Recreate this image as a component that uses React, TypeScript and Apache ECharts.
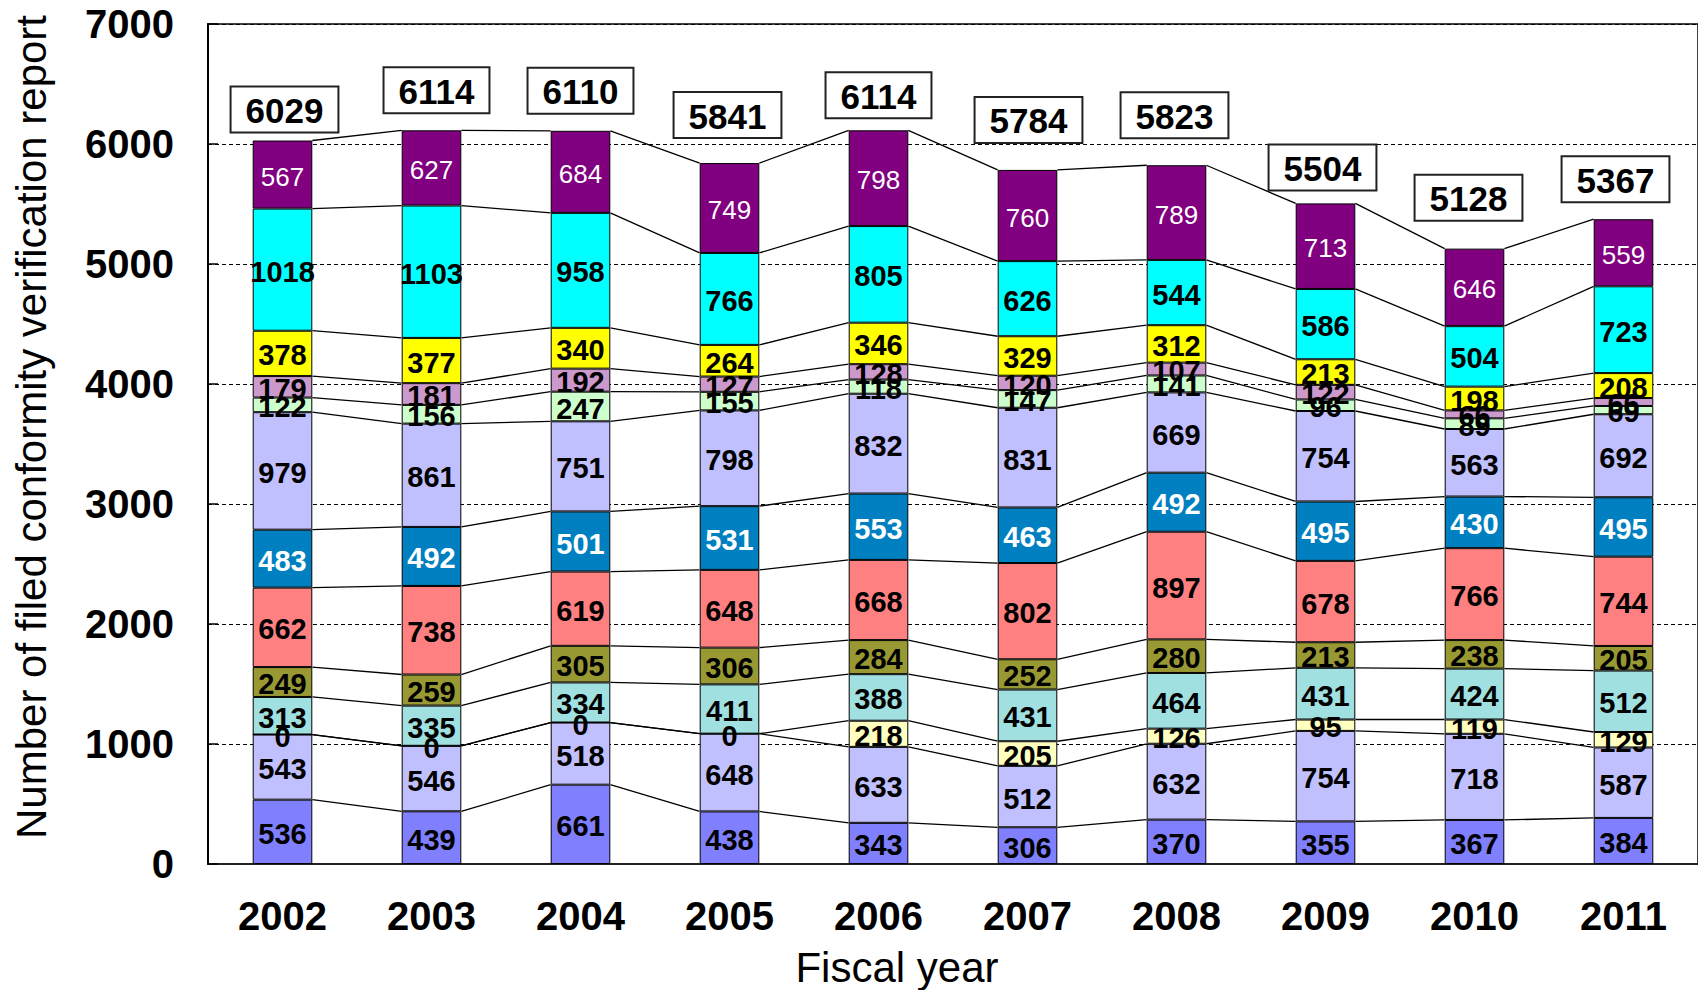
import React, { useEffect, useRef } from "react";
import * as echarts from "echarts";

const years = ["2002", "2003", "2004", "2005", "2006", "2007", "2008", "2009", "2010", "2011"];

const band1 = [536, 439, 661, 438, 343, 306, 370, 355, 367, 384];
const band2 = [543, 546, 518, 648, 633, 512, 632, 754, 718, 587];
const band3 = [0, 0, 0, 0, 218, 205, 126, 95, 119, 129];
const band4 = [313, 335, 334, 411, 388, 431, 464, 431, 424, 512];
const band5 = [249, 259, 305, 306, 284, 252, 280, 213, 238, 205];
const band6 = [662, 738, 619, 648, 668, 802, 897, 678, 766, 744];
const band7 = [483, 492, 501, 531, 553, 463, 492, 495, 430, 495];
const band8 = [979, 861, 751, 798, 832, 831, 669, 754, 563, 692];
const band9 = [122, 156, 247, 155, 118, 147, 141, 96, 89, 69];
const band10 = [179, 181, 192, 127, 128, 120, 107, 122, 66, 66];
const band11 = [378, 377, 340, 264, 346, 329, 312, 213, 198, 208];
const band12 = [1018, 1103, 958, 766, 805, 626, 544, 586, 504, 723];
const band13 = [567, 627, 684, 749, 798, 760, 789, 713, 646, 559];

const totals = [6029, 6114, 6110, 5841, 6114, 5784, 5823, 5504, 5128, 5367];

const yTicks = [0, 1000, 2000, 3000, 4000, 5000, 6000, 7000];

// styles (kept apart from data)
const bandColors = [
  "#8080FF", "#C0C0FF", "#FFFFC0", "#A0E0E0", "#999933", "#FF8080",
  "#0080C0", "#C0C0FF", "#CCFFCC", "#CC99CC", "#FFFF00", "#00FFFF", "#800080",
];
const totalBoxGap = [9, 18, 18, 26, 13, 28, 28, 14, 29, 18];
const totalBoxShift = [2, 5, 0, -2, 0, 1, -2, -3, -6, -8];

const FONT = "'Liberation Sans', Arial, sans-serif";

export default function App() {
  const ref = useRef<HTMLDivElement>(null);

  useEffect(() => {
    if (!ref.current) return;
    const chart = echarts.init(ref.current, null, { renderer: "svg" });
    const bands = [band1, band2, band3, band4, band5, band6, band7, band8, band9, band10, band11, band12, band13];

    // cumulative stack tops for series lines
    const cum: number[][] = [];
    bands.forEach((b, k) => {
      cum.push(b.map((v, i) => v + (k > 0 ? cum[k - 1][i] : 0)));
    });
    const lineData: number[][] = [];
    cum.forEach((c) => {
      for (let i = 0; i < c.length - 1; i++) lineData.push([i, c[i], c[i + 1]]);
    });

    const barSeries: any[] = bands.map((b, k) => {
      let labelColor = "#000";
      let fontWeight: any = "bold";
      let fontSize = 29;
      if (k === 6) labelColor = "#fff";
      if (k === 12) {
        labelColor = "#fff";
        fontWeight = "normal";
        fontSize = 26;
      }
      return {
        type: "bar",
        stack: "all",
        barWidth: "40%",
        data: b,
        z: 3,
        itemStyle: { color: bandColors[k], borderColor: "#000", borderWidth: 1 },
        label: {
          show: true,
          position: "inside",
          offset: [0, 2],
          color: labelColor,
          fontWeight,
          fontSize,
          fontFamily: FONT,
        },
        emphasis: { disabled: true },
      };
    });

    barSeries.push({
      type: "bar",
      stack: "all",
      barWidth: "40%",
      z: 5,
      data: totals.map((t, i) => ({
        value: 0,
        label: { distance: totalBoxGap[i], offset: [totalBoxShift[i], 0] },
      })),
      itemStyle: { color: "transparent", borderWidth: 0 },
      label: {
        show: true,
        position: "top",
        formatter: (p: any) => String(totals[p.dataIndex]),
        color: "#000",
        fontWeight: "bold",
        fontSize: 35,
        fontFamily: FONT,
        lineHeight: 32,
        backgroundColor: "#fff",
        borderColor: "#222",
        borderWidth: 2,
        padding: [7, 14, 5, 14],
      },
      emphasis: { disabled: true },
    });

    barSeries.push({
      type: "custom",
      z: 2,
      data: lineData,
      encode: { x: 0, y: [1, 2] },
      renderItem: (params: any, api: any) => {
        const i = api.value(0);
        const a = api.value(1);
        const b = api.value(2);
        const p1 = api.coord([i, a]);
        const p2 = api.coord([i + 1, b]);
        const half = api.size([1, 0])[0] * 0.2;
        return {
          type: "line",
          shape: { x1: p1[0] + half, y1: p1[1], x2: p2[0] - half, y2: p2[1] },
          style: { stroke: "#000", lineWidth: 1.3 },
        };
      },
      silent: true,
    });

    chart.setOption({
      animation: false,
      grid: {
        left: 208,
        right: 0,
        top: 24,
        bottom: 126,
        show: true,
        borderColor: "#000",
        borderWidth: 1.5,
        backgroundColor: "#fff",
      },
      xAxis: {
        type: "category",
        data: years,
        axisLine: { lineStyle: { color: "#222", width: 2 } },
        axisTick: { inside: true, length: 11, lineStyle: { color: "#222", width: 1.5 } },
        axisLabel: {
          color: "#000",
          fontSize: 40,
          fontWeight: "bold",
          fontFamily: FONT,
          margin: 32,
        },
      },
      yAxis: {
        type: "value",
        min: yTicks[0],
        max: yTicks[yTicks.length - 1],
        interval: 1000,
        axisLine: { show: true, lineStyle: { color: "#000", width: 2 } },
        axisTick: { show: true, inside: true, length: 10, lineStyle: { color: "#000", width: 1.5 } },
        splitLine: { show: true, lineStyle: { color: "#000", width: 1, type: [4, 3] } },
        axisLabel: {
          color: "#000",
          fontSize: 40,
          fontWeight: "bold",
          fontFamily: FONT,
          margin: 34,
          formatter: (v: number) => String(v),
        },
      },
      graphic: [
        {
          type: "text",
          x: 31,
          y: 427,
          rotation: Math.PI / 2,
          style: {
            text: "Number of filed conformity verification report",
            fill: "#000",
            font: `normal 42px ${FONT}`,
            align: "center",
            verticalAlign: "middle",
          },
        },
        {
          type: "text",
          x: 897,
          y: 967,
          style: {
            text: "Fiscal year",
            fill: "#000",
            font: `normal 42px ${FONT}`,
            align: "center",
            verticalAlign: "middle",
          },
        },
      ],
      series: barSeries,
    });

    return () => chart.dispose();
  }, []);

  return (
    <div
      ref={ref}
      style={{ position: "fixed", left: 0, top: 0, width: 1698, height: 990, background: "#fff" }}
    />
  );
}
